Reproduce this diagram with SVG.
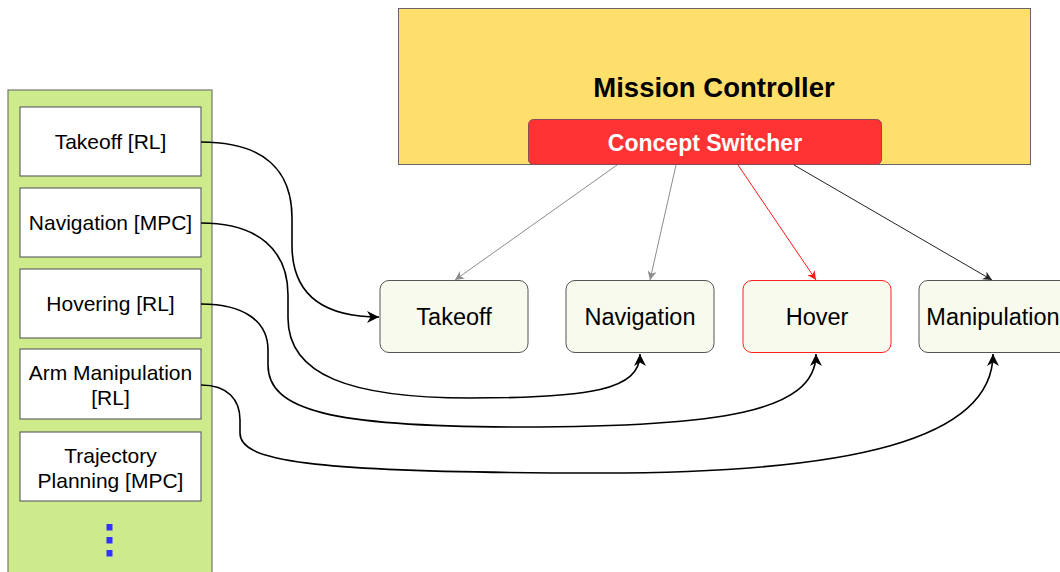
<svg xmlns="http://www.w3.org/2000/svg" width="1060" height="572" viewBox="0 0 1060 572">
  <defs>
    <style>
      text { font-family: "Liberation Sans", Arial, Helvetica, sans-serif; fill: #000; text-anchor: middle; dominant-baseline: central; }
      .skill { fill: #ffffff; stroke: #666666; stroke-width: 1.2; }
      .concept rect { fill: #f9faee; stroke: #555555; stroke-width: 1; }
      .concept text { font-size: 23.5px; }
      .flow { fill: none; stroke: #000000; stroke-width: 1.6; marker-end: url(#arrowBlack); }
      .sel { fill: none; stroke-width: 1; }
    </style>
    <marker id="arrowBlack" viewBox="0 0 10 10" refX="10" refY="5" markerUnits="userSpaceOnUse" markerWidth="12" markerHeight="12" orient="auto">
      <path d="M0,0 L10,5 L0,10 L3,5 z" fill="#000000"/>
    </marker>
    <marker id="arrowGray" viewBox="0 0 10 10" refX="10" refY="5" markerUnits="userSpaceOnUse" markerWidth="9" markerHeight="9" orient="auto">
      <path d="M0,0 L10,5 L0,10 L3,5 z" fill="#8c8c8c"/>
    </marker>
    <marker id="arrowRed" viewBox="0 0 10 10" refX="10" refY="5" markerUnits="userSpaceOnUse" markerWidth="9" markerHeight="9" orient="auto">
      <path d="M0,0 L10,5 L0,10 L3,5 z" fill="#ff1a1a"/>
    </marker>
    <marker id="arrowDark" viewBox="0 0 10 10" refX="10" refY="5" markerUnits="userSpaceOnUse" markerWidth="9" markerHeight="9" orient="auto">
      <path d="M0,0 L10,5 L0,10 L3,5 z" fill="#222222"/>
    </marker>
  </defs>

  <rect width="1060" height="572" fill="#ffffff"/>

  <!-- skill library column -->
  <g id="skill-library">
    <rect x="8" y="90" width="204" height="500" fill="#cdeb8b" stroke="#777777" stroke-width="1.2"/>
    <g id="skill-takeoff">
      <rect class="skill" x="20" y="107" width="181" height="69"/>
      <text x="110.5" y="141.5" font-size="21">Takeoff [RL]</text>
    </g>
    <g id="skill-navigation">
      <rect class="skill" x="20" y="188" width="181" height="69" stroke="#333333"/>
      <text x="110.5" y="222.5" font-size="21">Navigation [MPC]</text>
    </g>
    <g id="skill-hovering">
      <rect class="skill" x="20" y="269" width="181" height="69"/>
      <text x="110.5" y="303.5" font-size="21">Hovering [RL]</text>
    </g>
    <g id="skill-arm">
      <rect class="skill" x="20" y="349" width="181" height="70"/>
      <text x="110.5" y="372" font-size="21">Arm Manipulation</text>
      <text x="110.5" y="397" font-size="21">[RL]</text>
    </g>
    <g id="skill-trajectory">
      <rect class="skill" x="20" y="432" width="181" height="69" stroke="#333333"/>
      <text x="110.5" y="455" font-size="21">Trajectory</text>
      <text x="110.5" y="480" font-size="21">Planning [MPC]</text>
    </g>
    <g id="more-skills" fill="#3333ff">
      <rect x="106.5" y="524" width="6" height="6.5"/>
      <rect x="106.5" y="537" width="6" height="6.5"/>
      <rect x="106.5" y="550" width="6" height="6.5"/>
    </g>
  </g>

  <!-- mission controller with concept switcher -->
  <g id="mission-controller">
    <rect x="398.5" y="8.5" width="632" height="156" fill="#fedf6b" stroke="#666666" stroke-width="1"/>
    <text x="714" y="87" font-size="27.5" font-weight="bold" fill="#1a1a1a">Mission Controller</text>
  </g>
  <g id="concept-switcher">
    <rect x="528.5" y="119.5" width="353" height="45" rx="5" ry="5" fill="#ff3333" stroke="#8a4a5a" stroke-width="1"/>
    <text x="705" y="142.5" font-size="23" font-weight="bold" style="fill:#ffffff">Concept Switcher</text>
  </g>

  <!-- concept nodes -->
  <g id="concept-takeoff" class="concept">
    <rect x="380" y="280.5" width="148" height="72" rx="9" ry="9"/>
    <text x="454" y="317">Takeoff</text>
  </g>
  <g id="concept-navigation" class="concept">
    <rect x="566" y="280.5" width="148" height="72" rx="9" ry="9"/>
    <text x="640" y="317">Navigation</text>
  </g>
  <g id="concept-hover" class="concept">
    <rect x="743" y="280.5" width="148" height="72" rx="9" ry="9" style="stroke:#ff2020"/>
    <text x="817" y="317">Hover</text>
  </g>
  <g id="concept-manipulation" class="concept">
    <rect x="919" y="280.5" width="150" height="72" rx="9" ry="9"/>
    <text x="993" y="317">Manipulation</text>
  </g>

  <!-- connectors -->
  <g id="connectors">
    <!-- concept switcher to concepts -->
    <line class="sel" x1="617" y1="165" x2="455" y2="280" stroke="#8c8c8c" marker-end="url(#arrowGray)"/>
    <line class="sel" x1="676" y1="165" x2="650" y2="280" stroke="#8c8c8c" marker-end="url(#arrowGray)"/>
    <line class="sel" x1="738" y1="165" x2="816" y2="280" stroke="#ff1a1a" marker-end="url(#arrowRed)"/>
    <line class="sel" x1="794" y1="165" x2="992" y2="280" stroke="#222222" marker-end="url(#arrowDark)"/>

    <!-- skills bound to concepts -->
    <path class="flow" d="M201,142 C266,142 292,172 292,218 L292,245 C292,294 322,317 379,317"/>
    <path class="flow" d="M201,223 C258,223 288,250 288,295 L288,318 C288,375 350,398 470,398 C590,398 640,390 640,354"/>
    <path class="flow" d="M201,304 C245,304 268,322 268,350 L268,365 C268,410 330,427 520,427 C720,427 816,412 816,354"/>
    <path class="flow" d="M201,385 C228,385 240,400 240,420 L240,433 C240,460 300,473 600,473 C850,473 993,440 993,354"/>
  </g>
</svg>
